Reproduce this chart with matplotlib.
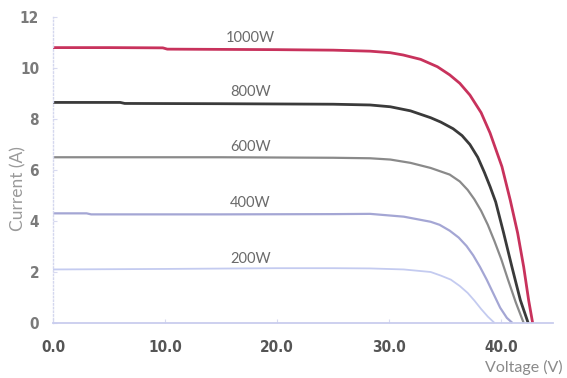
import matplotlib
matplotlib.use("Agg")
import matplotlib.pyplot as plt

# I-V curves (voltage in V, current in A)
v_1000 = [0, 5, 9.8, 10.2, 15, 20, 25, 28.3, 30.1, 31.25, 32.8, 34.3, 35.4, 36.3, 37.2, 38.2, 39.0, 40.06, 40.8, 41.46, 42.0, 42.44, 42.8]
i_1000 = [10.8, 10.8, 10.79, 10.74, 10.73, 10.72, 10.7, 10.66, 10.6, 10.51, 10.34, 10.05, 9.73, 9.4, 8.94, 8.25, 7.45, 6.13, 4.82, 3.53, 2.2, 0.9, 0]

v_800 = [0, 6, 6.4, 15, 25, 28.3, 30.1, 31.9, 33.7, 34.6, 35.7, 36.5, 37.2, 37.9, 38.5, 39.0, 39.5, 40.2, 40.95, 41.7, 42.4]
i_800 = [8.65, 8.65, 8.61, 8.6, 8.58, 8.55, 8.48, 8.32, 8.05, 7.88, 7.62, 7.35, 7.0, 6.5, 5.9, 5.35, 4.75, 3.55, 2.2, 0.9, 0]

v_600 = [0, 15, 25, 28.3, 30.1, 31.9, 33.7, 35.4, 36.3, 37.0, 37.6, 38.2, 38.8, 39.4, 40.0, 40.6, 41.3, 42.0]
i_600 = [6.5, 6.5, 6.48, 6.46, 6.41, 6.28, 6.08, 5.82, 5.55, 5.22, 4.85, 4.4, 3.85, 3.2, 2.5, 1.7, 0.8, 0]

v_400 = [0, 3, 3.4, 15, 25, 28.3, 31.3, 33.7, 34.5, 35.4, 36.2, 36.9, 37.5, 38.1, 38.7, 39.3, 39.9, 40.5, 41.0]
i_400 = [4.3, 4.3, 4.26, 4.26, 4.27, 4.28, 4.17, 3.97, 3.85, 3.62, 3.35, 3.02, 2.65, 2.2, 1.7, 1.15, 0.6, 0.2, 0]

v_200 = [0, 10, 20, 25, 28.3, 31.3, 33.7, 34.6, 35.5, 36.3, 37.0, 37.6, 38.2, 38.8, 39.4]
i_200 = [2.1, 2.12, 2.15, 2.15, 2.14, 2.1, 2.0, 1.86, 1.7, 1.45, 1.18, 0.88, 0.55, 0.25, 0]

labels = ["1000W", "800W", "600W", "400W", "200W"]
label_x = 17.6
x_ticks = [0, 10, 20, 30, 40]
x_ticklabels = ["0.0", "10.0", "20.0", "30.0", "40.0"]
y_ticks = [0, 2, 4, 6, 8, 10, 12]

curves = [
    (v_1000, i_1000, "#c8325c", 2.0),
    (v_800, i_800, "#3a3a3a", 2.0),
    (v_600, i_600, "#8a8a8a", 1.6),
    (v_400, i_400, "#a4a6d4", 1.6),
    (v_200, i_200, "#c4cbf0", 1.3),
]

fig = plt.figure(figsize=(5.67, 3.78), dpi=100)
ax = fig.add_axes([0.0935, 0.1455, 0.8815, 0.8095])

for (v, i, c, lw), lab in zip(curves, labels):
    ax.plot(v, i, color=c, lw=lw, solid_capstyle="butt", solid_joinstyle="round", clip_on=False)
    ax.text(label_x, i[0] + 0.12, lab, ha="center", va="bottom",
            fontsize=10.5, color="#6a6a6a", family=["Lato", "DejaVu Sans"])

ax.set_xlim(0, 44.6)
ax.set_ylim(0, 12)

for s in ["top", "right"]:
    ax.spines[s].set_visible(False)
ax.spines["left"].set_color("#d4d7ee")
ax.spines["left"].set_linestyle(":")
ax.spines["left"].set_linewidth(1.0)
ax.spines["bottom"].set_color("#c9cdee")
ax.spines["bottom"].set_linewidth(1.3)
ax.set_zorder(1)

tick_font = dict(family="DejaVu Sans", stretch="condensed", weight="bold", size=11)
ax.set_xticks(x_ticks)
ax.set_xticklabels(x_ticklabels, color="#555555", **tick_font)
ax.set_yticks(y_ticks)
ax.set_yticklabels([str(t) for t in y_ticks], color="#7a7a7a", **tick_font)
ax.tick_params(axis="x", direction="in", length=3, color="#d8daf0", pad=12)
ax.tick_params(axis="y", direction="in", length=3, color="#d8daf0", pad=10)

fig.text(0.032, 0.50, "Current (A)", rotation=90, ha="center", va="center",
         fontsize=12.5, color="#9a9a9a", family=["Lato", "DejaVu Sans"])
fig.text(0.993, 0.027, "Voltage (V)", ha="right", va="center",
         fontsize=11.5, color="#8a8a8a", family=["Lato", "DejaVu Sans"])

fig.savefig("out.png", dpi=100)
